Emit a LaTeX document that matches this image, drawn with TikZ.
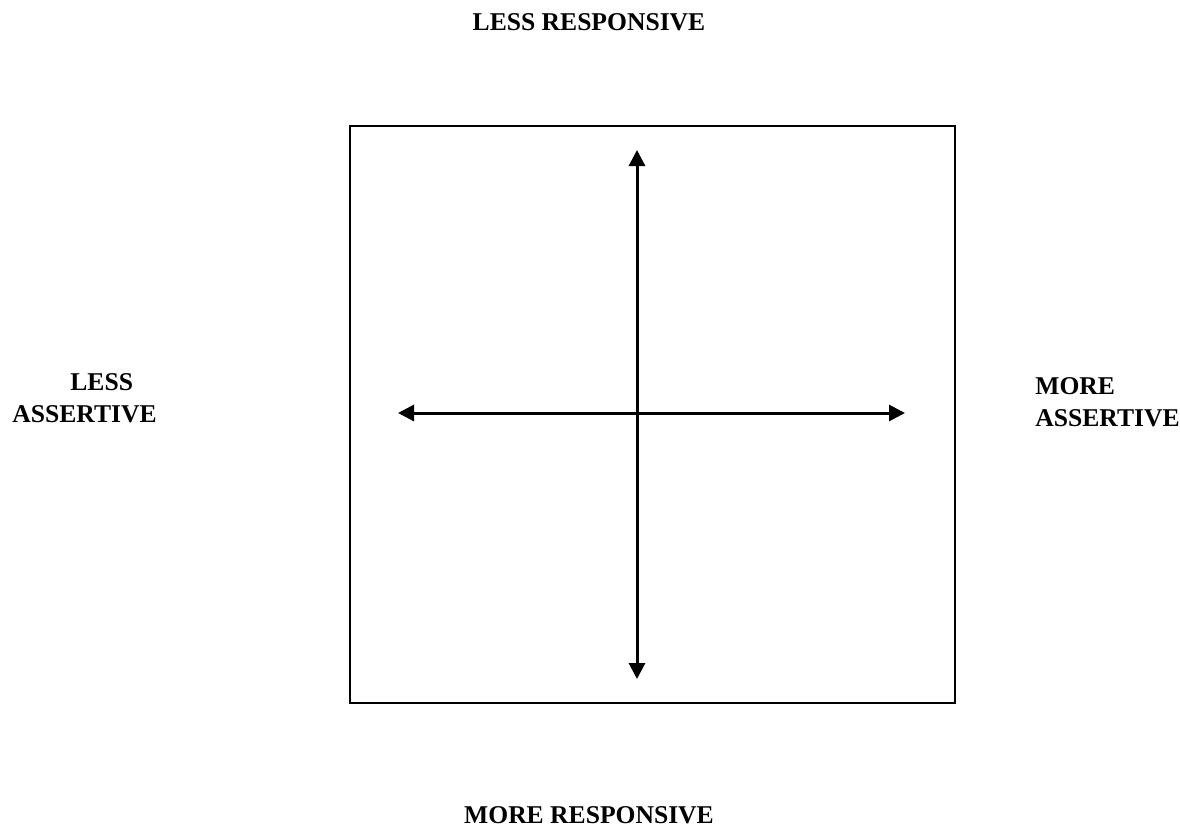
\documentclass[tikz,border=0pt]{standalone}
\usepackage{fontspec}
\setmainfont{Liberation Serif}
\usetikzlibrary{positioning,arrows.meta}

\begin{document}
\begin{tikzpicture}[x=0.5pt,y=-0.5pt,>={Triangle[length=8pt,width=8pt]}]
\tikzset{axislabel/.style={font=\bfseries\fontsize{12.8}{16}\selectfont,inner sep=0pt}}
\useasboundingbox (0,0) rectangle (1180,831);
\node[draw,line width=1.1pt,minimum width=302.5pt,minimum height=288.5pt,inner sep=0pt] (grid) at (652.5,414.5) {};
\coordinate (up) at (637,150);
\coordinate (down) at (637,679);
\coordinate (lft) at (398,413);
\coordinate (rgt) at (905,413);
\draw[<->,line width=1.5pt] (up) -- (down);
\draw[<->,line width=1.5pt] (lft) -- (rgt);
\node[axislabel] (lessresp) at (589,22) {LESS RESPONSIVE};
\node[axislabel] (moreresp) at (589,815) {MORE RESPONSIVE};
\node[axislabel,align=left,anchor=west] (lessass) at (12,398) {\hspace*{29pt}LESS\\ASSERTIVE};
\node[axislabel,align=left,anchor=west] (moreass) at (1035,402) {MORE\\ASSERTIVE};
\end{tikzpicture}
\end{document}
